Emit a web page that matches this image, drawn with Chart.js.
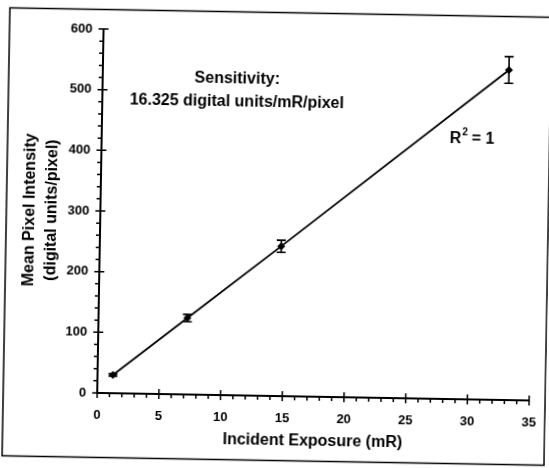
<!DOCTYPE html>
<html>
<head>
<meta charset="utf-8">
<script src="https://cdn.jsdelivr.net/npm/chart.js@4.4.0/dist/chart.umd.min.js"></script>
<style>
html, body { margin: 0; padding: 0; background: #fff; overflow: hidden; }
#wrap { width: 549px; height: 468px; transform: rotate(1deg); transform-origin: 50% 50%; }
</style>
</head>
<body>
<div id="wrap"><canvas id="chart" width="549" height="468"></canvas></div>
<script>
const exposure = [1.25, 7.2, 14.7, 32.9];
const intensity = [30, 126, 247, 544];
const errors = [2, 6, 10, 22];
const xTicks = [0, 5, 10, 15, 20, 25, 30, 35];
const yTicks = [0, 100, 200, 300, 400, 500, 600];

const FONT = "'Liberation Sans', Arial, sans-serif";

// frame, axes, minor ticks, error bars and the text notes
const extras = {
    id: 'extras',
    beforeDraw(chart){
        const ctx = chart.ctx;
        ctx.save();
        ctx.strokeStyle = '#000';
        ctx.lineWidth = 1.5;
        ctx.strokeRect(6, 12.5, 542, 448);
        ctx.restore();
    },
    afterDatasetsDraw(chart){
        const ctx = chart.ctx;
        const x = chart.scales.x;
        const y = chart.scales.y;
        const x0 = x.getPixelForValue(0);
        const y0 = y.getPixelForValue(0);

        ctx.save();
        ctx.strokeStyle = '#000';
        ctx.lineWidth = 2;
        ctx.beginPath();
        ctx.moveTo(x0, y.getPixelForValue(600));
        ctx.lineTo(x0, y0);
        ctx.lineTo(x.getPixelForValue(35), y0);
        ctx.stroke();

        ctx.lineWidth = 1.5;
        ctx.beginPath();
        for(let v = 0; v <= 600; v += 20){
            const py = y.getPixelForValue(v);
            if(v % 100 === 0){
                ctx.moveTo(x0 - 5, py);
                ctx.lineTo(x0 + 5, py);
            } else {
                ctx.moveTo(x0 - 4, py);
                ctx.lineTo(x0, py);
            }
        }
        for(let v = 0; v <= 35; v += 1){
            const px = x.getPixelForValue(v);
            if(v % 5 === 0){
                ctx.moveTo(px, y0 - 5);
                ctx.lineTo(px, y0 + 5);
            } else {
                ctx.moveTo(px, y0);
                ctx.lineTo(px, y0 + 4);
            }
        }
        ctx.stroke();

        // error bars
        ctx.lineWidth = 1.6;
        ctx.beginPath();
        for(let i = 0; i < exposure.length; i++){
            const px = x.getPixelForValue(exposure[i]);
            const top = y.getPixelForValue(intensity[i] + errors[i]);
            const bot = y.getPixelForValue(intensity[i] - errors[i]);
            ctx.moveTo(px, top);
            ctx.lineTo(px, bot);
            ctx.moveTo(px - 4.5, top);
            ctx.lineTo(px + 4.5, top);
            ctx.moveTo(px - 4.5, bot);
            ctx.lineTo(px + 4.5, bot);
        }
        ctx.stroke();

        // notes
        ctx.fillStyle = '#000';
        ctx.textAlign = 'center';
        ctx.textBaseline = 'middle';
        ctx.font = 'bold 16px ' + FONT;
        ctx.fillText('Sensitivity:', x.getPixelForValue(10.9), y.getPixelForValue(521));
        ctx.fillText('16.325 digital units/mR/pixel', x.getPixelForValue(10.9), y.getPixelForValue(483));

        const rx = x.getPixelForValue(28.2);
        const ry = y.getPixelForValue(430);
        ctx.textAlign = 'left';
        ctx.fillText('R', rx, ry);
        const rw = ctx.measureText('R').width;
        ctx.font = 'bold 10px ' + FONT;
        ctx.fillText('2', rx + rw + 1, ry - 6);
        ctx.font = 'bold 16px ' + FONT;
        ctx.fillText(' = 1', rx + rw + 6, ry);
        ctx.restore();
    }
};

new Chart(document.getElementById('chart'), {
    type: 'scatter',
    data: {
        datasets: [{
            data: exposure.map((e, i) => ({x: e, y: intensity[i]})),
            showLine: true,
            borderColor: '#000',
            borderWidth: 1.8,
            backgroundColor: '#000',
            pointStyle: 'rectRot',
            pointRadius: 4,
            pointBorderWidth: 0
        }]
    },
    options: {
        responsive: false,
        animation: false,
        layout: { padding: { top: 32, right: 17, left: 0, bottom: 0 } },
        plugins: {
            legend: { display: false },
            tooltip: { enabled: false }
        },
        scales: {
            x: {
                type: 'linear',
                min: 0,
                max: 35,
                afterBuildTicks: s => { s.ticks = xTicks.map(v => ({value: v})); },
                afterFit: s => { s.height = 72; s.paddingLeft = 0; s.paddingRight = 0; },
                grid: { display: false, drawTicks: false },
                border: { display: false },
                ticks: {
                    padding: 15,
                    color: '#000',
                    maxRotation: 0,
                    autoSkip: false,
                    font: { family: FONT, size: 13, weight: 'bold' }
                },
                title: {
                    display: true,
                    text: 'Incident Exposure (mR)',
                    color: '#000',
                    font: { family: FONT, size: 16, weight: 'bold' },
                    padding: { top: 0, bottom: 18 }
                }
            },
            y: {
                type: 'linear',
                min: 0,
                max: 600,
                afterBuildTicks: s => { s.ticks = yTicks.map(v => ({value: v})); },
                afterFit: s => { s.width = 100; s.paddingTop = 0; s.paddingBottom = 0; },
                grid: { display: false, drawTicks: false },
                border: { display: false },
                ticks: {
                    padding: 11,
                    color: '#000',
                    font: { family: FONT, size: 13, weight: 'bold' }
                },
                title: {
                    display: true,
                    text: ['Mean Pixel Intensity', '(digital units/pixel)'],
                    color: '#000',
                    font: { family: FONT, size: 16, weight: 'bold', lineHeight: 1.375 },
                    padding: { top: 19, bottom: 0 }
                }
            }
        }
    },
    plugins: [extras]
});
</script>
</body>
</html>
